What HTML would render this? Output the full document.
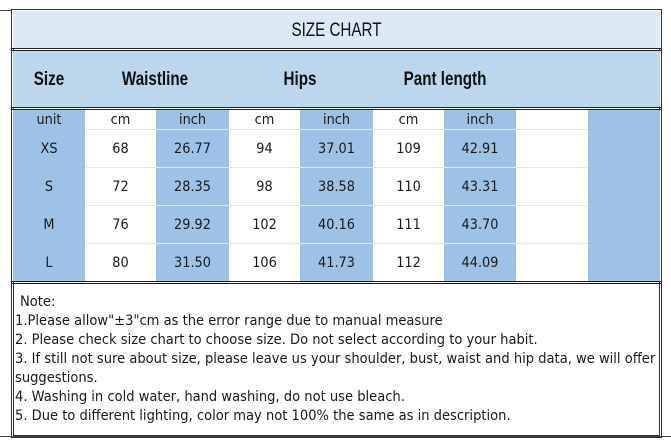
<!DOCTYPE html>
<html><head><style>
body{margin:0;width:671px;height:446px;background:#fff;position:relative;overflow:hidden;font-family:"DejaVu Sans","Liberation Sans",sans-serif;color:#1a1a1a}
div{position:absolute;box-sizing:border-box}
.box{border:3px double #222}
.c{text-align:center;font-size:14px;line-height:18px;transform:scaleX(.92)}
.h{font-family:"Liberation Sans",sans-serif;font-size:19px;font-weight:bold;transform:scaleX(.8);text-align:center;color:#111}
.n{left:15px;font-size:14px;white-space:nowrap;transform-origin:0 0;transform:scaleX(.935)}
</style></head><body>
<div style="left:0;top:10px;width:12px;height:1px;background:#444"></div>
<div class="box" style="left:11px;top:9px;width:651px;height:429px;border-color:#333"></div>
<div style="left:13px;top:11px;width:647px;height:38px;background:#dde9f5"></div>
<div class="h" style="left:13px;top:20px;width:647px;font-weight:normal">SIZE CHART</div>
<div style="left:11px;top:48px;width:651px;height:3px;border-top:3px double #222"></div>
<div style="left:13px;top:51px;width:647px;height:57px;background:#bcd6ee"></div>
<div class="h" style="left:13px;top:69px;width:72px;">Size</div>
<div class="h" style="left:100px;top:69px;width:110px;">Waistline</div>
<div class="h" style="left:240px;top:69px;width:120px;">Hips</div>
<div class="h" style="left:380px;top:69px;width:130px;">Pant length</div>
<div style="left:11px;top:107px;width:651px;height:3px;border-top:3px double #222"></div>
<div style="left:13px;top:110px;width:647px;height:172px;background:#9ec2e6"></div>
<div style="left:85px;top:110px;width:71px;height:172px;background:#fff"></div>
<div style="left:229px;top:110px;width:71px;height:172px;background:#fff"></div>
<div style="left:373px;top:110px;width:71px;height:172px;background:#fff"></div>
<div style="left:516px;top:110px;width:72px;height:172px;background:#fff"></div>
<div style="left:85px;top:129px;width:503px;height:1px;background:#e6e6e6"></div>
<div style="left:85px;top:167px;width:503px;height:1px;background:#e6e6e6"></div>
<div style="left:85px;top:205px;width:503px;height:1px;background:#e6e6e6"></div>
<div style="left:85px;top:243px;width:503px;height:1px;background:#e6e6e6"></div>
<div style="left:11px;top:281px;width:651px;height:3px;border-top:3px double #222"></div>

<div class="c" style="left:13px;top:111px;width:72px">unit</div>
<div class="c" style="left:85px;top:111px;width:71px">cm</div>
<div class="c" style="left:156px;top:111px;width:73px">inch</div>
<div class="c" style="left:229px;top:111px;width:71px">cm</div>
<div class="c" style="left:300px;top:111px;width:73px">inch</div>
<div class="c" style="left:373px;top:111px;width:71px">cm</div>
<div class="c" style="left:444px;top:111px;width:72px">inch</div>

<div class="c" style="left:13px;top:140px;width:72px">XS</div>
<div class="c" style="left:85px;top:140px;width:71px">68</div>
<div class="c" style="left:156px;top:140px;width:73px">26.77</div>
<div class="c" style="left:229px;top:140px;width:71px">94</div>
<div class="c" style="left:300px;top:140px;width:73px">37.01</div>
<div class="c" style="left:373px;top:140px;width:71px">109</div>
<div class="c" style="left:444px;top:140px;width:72px">42.91</div>

<div class="c" style="left:13px;top:178px;width:72px">S</div>
<div class="c" style="left:85px;top:178px;width:71px">72</div>
<div class="c" style="left:156px;top:178px;width:73px">28.35</div>
<div class="c" style="left:229px;top:178px;width:71px">98</div>
<div class="c" style="left:300px;top:178px;width:73px">38.58</div>
<div class="c" style="left:373px;top:178px;width:71px">110</div>
<div class="c" style="left:444px;top:178px;width:72px">43.31</div>

<div class="c" style="left:13px;top:216px;width:72px">M</div>
<div class="c" style="left:85px;top:216px;width:71px">76</div>
<div class="c" style="left:156px;top:216px;width:73px">29.92</div>
<div class="c" style="left:229px;top:216px;width:71px">102</div>
<div class="c" style="left:300px;top:216px;width:73px">40.16</div>
<div class="c" style="left:373px;top:216px;width:71px">111</div>
<div class="c" style="left:444px;top:216px;width:72px">43.70</div>

<div class="c" style="left:13px;top:254px;width:72px">L</div>
<div class="c" style="left:85px;top:254px;width:71px">80</div>
<div class="c" style="left:156px;top:254px;width:73px">31.50</div>
<div class="c" style="left:229px;top:254px;width:71px">106</div>
<div class="c" style="left:300px;top:254px;width:73px">41.73</div>
<div class="c" style="left:373px;top:254px;width:71px">112</div>
<div class="c" style="left:444px;top:254px;width:72px">44.09</div>

<div class="n" style="left:20px;top:294px">Note:</div>
<div class="n" style="top:313px">1.Please allow"±3"cm as the error range due to manual measure</div>
<div class="n" style="top:332px">2. Please check size chart to choose size. Do not select according to your habit.</div>
<div class="n" style="top:351px">3. If still not sure about size, please leave us your shoulder, bust, waist and hip data, we will offer</div>
<div class="n" style="top:370px">suggestions.</div>
<div class="n" style="top:389px">4. Washing in cold water, hand washing, do not use bleach.</div>
<div class="n" style="top:408px">5. Due to different lighting, color may not 100% the same as in description.</div>
<div style="left:0;top:436px;width:671px;height:1px;background:#444"></div>
</body></html>
